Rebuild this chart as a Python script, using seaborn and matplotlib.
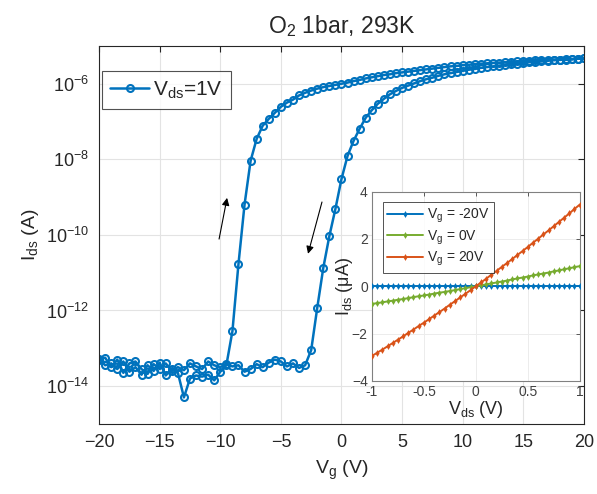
import numpy as np
import pandas as pd
import matplotlib
matplotlib.use("Agg")
import matplotlib.pyplot as plt
import seaborn as sns
from matplotlib.ticker import LogFormatterMathtext, NullLocator

# transfer curve, Vds = 1 V, gate swept -20 -> 20 -> -20 V in 0.5 V steps
vg = np.arange(-20, 20.5, 0.5)

# log10(Ids / A), forward sweep (-20 -> 20)
log_ids_up = [
    -13.28, -13.45, -13.40, -13.55, -13.35, -13.62, -13.50, -13.70, -13.45, -13.60,
    -13.38, -13.72, -13.55, -13.65, -14.30, -13.80, -13.72, -13.75, -13.70, -13.85,
    -13.62, -13.45, -12.55, -10.77, -9.20, -8.04, -7.46, -7.11, -6.93, -6.77,
    -6.61, -6.50, -6.42, -6.31, -6.24, -6.18, -6.13, -6.09, -6.06, -6.03,
    -6.00, -5.97, -5.93, -5.90, -5.86, -5.83, -5.80, -5.77, -5.75, -5.72,
    -5.70, -5.68, -5.66, -5.64, -5.62, -5.60, -5.58, -5.56, -5.54, -5.53,
    -5.51, -5.50, -5.48, -5.47, -5.46, -5.45, -5.44, -5.43, -5.42, -5.41,
    -5.40, -5.39, -5.38, -5.37, -5.37, -5.36, -5.36, -5.35, -5.35, -5.34,
    -5.33,
]

# log10(Ids / A), backward sweep, listed by ascending Vg
log_ids_down = [
    -13.30, -13.25, -13.50, -13.30, -13.65, -13.40, -13.35, -13.55, -13.68, -13.42,
    -13.55, -13.40, -13.60, -13.50, -13.58, -13.40, -13.48, -13.55, -13.35, -13.45,
    -13.50, -13.42, -13.48, -13.45, -13.62, -13.55, -13.42, -13.50, -13.38, -13.30,
    -13.35, -13.48, -13.40, -13.52, -13.45, -13.05, -11.93, -10.87, -10.03, -9.31,
    -8.52, -7.91, -7.51, -7.19, -6.90, -6.70, -6.53, -6.40, -6.28, -6.19,
    -6.11, -6.05, -5.99, -5.93, -5.88, -5.84, -5.79, -5.75, -5.72, -5.69,
    -5.66, -5.63, -5.61, -5.58, -5.56, -5.54, -5.52, -5.50, -5.48, -5.47,
    -5.45, -5.43, -5.42, -5.41, -5.39, -5.38, -5.37, -5.36, -5.35, -5.34,
    -5.33,
]

# output curves (inset), Ids in uA
vds = np.round(np.arange(-1, 1.0001, 0.05), 2)
ids_m20 = [
    0.00, 0.00, 0.00, 0.00, 0.00, 0.00, 0.00, 0.00, 0.00, 0.00,
    0.00, 0.00, 0.00, 0.00, 0.00, 0.00, 0.00, 0.00, 0.00, 0.00,
    0.00, 0.00, 0.00, 0.00, 0.00, 0.00, 0.00, 0.00, 0.00, 0.00,
    0.00, 0.00, 0.00, 0.00, 0.00, 0.00, 0.00, 0.00, 0.00, 0.00,
    0.00,
]
ids_0 = [
    -0.75, -0.71, -0.68, -0.64, -0.61, -0.57, -0.54, -0.50, -0.46, -0.42,
    -0.39, -0.35, -0.31, -0.27, -0.24, -0.20, -0.16, -0.12, -0.08, -0.04,
    0.00, 0.04, 0.08, 0.12, 0.16, 0.20, 0.24, 0.29, 0.33, 0.37,
    0.41, 0.46, 0.50, 0.54, 0.58, 0.63, 0.67, 0.72, 0.76, 0.81,
    0.85,
]
ids_p20 = [
    -2.95, -2.81, -2.68, -2.54, -2.40, -2.26, -2.12, -1.97, -1.83, -1.68,
    -1.54, -1.39, -1.24, -1.09, -0.94, -0.78, -0.63, -0.47, -0.32, -0.16,
    0.00, 0.16, 0.32, 0.49, 0.65, 0.82, 0.98, 1.15, 1.32, 1.49,
    1.66, 1.84, 2.01, 2.19, 2.36, 2.54, 2.72, 2.90, 3.08, 3.27,
    3.45,
]
inset_labels = ["$V_g$ = -20V", "$V_g$ = 0V", "$V_g$ = 20V"]

# sweep-direction arrows: (tail, head) in data coords
arrow_up = ((-10.1, 10**-10.11), (-9.44, 10**-9.02))
arrow_down = ((-1.61, 10**-9.13), (-2.76, 10**-10.5))

sns.set_theme(style="white")
plt.rcParams["font.family"] = ["Liberation Sans", "DejaVu Sans"]
plt.rcParams["mathtext.fontset"] = "custom"
plt.rcParams["mathtext.rm"] = "Liberation Sans"
plt.rcParams["mathtext.it"] = "Liberation Sans"
plt.rcParams["mathtext.default"] = "regular"
plt.rcParams["axes.edgecolor"] = "#262626"
plt.rcParams["xtick.color"] = "#262626"
plt.rcParams["ytick.color"] = "#262626"

BLUE = "#0072BD"
ORANGE = "#D95319"
GREEN = "#77AC30"

fig = plt.figure(figsize=(5.97, 4.94), dpi=100)
ax = fig.add_axes([0.166, 0.142, 0.812, 0.765])

df = pd.DataFrame({
    "Vg": np.concatenate([vg, vg[::-1]]),
    "Ids": 10 ** np.concatenate([log_ids_up, log_ids_down[::-1]]),
})
sns.lineplot(data=df, x="Vg", y="Ids", sort=False, estimator=None, ax=ax,
             color=BLUE, lw=1.8, marker="o", markersize=5, mfc="none",
             mec=BLUE, mew=1.5, label="$V_{ds}$=1V")

ax.set_yscale("log")
ax.set_xlim(-20, 20)
ax.set_ylim(1e-15, 1e-5)
ax.set_xticks(np.arange(-20, 21, 5))
ax.set_yticks([1e-14, 1e-12, 1e-10, 1e-8, 1e-6])
ax.yaxis.set_major_formatter(LogFormatterMathtext())
ax.yaxis.set_minor_locator(NullLocator())
ax.tick_params(direction="in", top=True, right=True, length=4, width=0.8,
               labelsize=13, pad=7)
ax.grid(True, color="#e3e3e3", lw=0.8)
for sp in ax.spines.values():
    sp.set_linewidth(0.8)
ax.set_xlabel("$V_g$ (V)", fontsize=14, color="#262626", labelpad=6)
ax.set_ylabel("$I_{ds}$ (A)", fontsize=14, color="#262626", labelpad=4)
ax.set_title("$O_2$ 1bar, 293K", fontsize=16.5, pad=9)

leg = ax.legend(loc="upper left", bbox_to_anchor=(0.005, 0.933), fontsize=15,
                frameon=True, fancybox=False, edgecolor="#262626",
                handlelength=1.9, borderpad=0.4, handletextpad=0.15,
                borderaxespad=0)
leg.get_frame().set_linewidth(0.8)

for (tail, head) in (arrow_up, arrow_down):
    ax.annotate("", xy=head, xytext=tail,
                arrowprops=dict(arrowstyle="-|>", color="black", lw=0.8,
                                mutation_scale=11, shrinkA=0, shrinkB=0))

# inset: output characteristics
ins = fig.add_axes([0.623, 0.229, 0.348, 0.383])
df_out = pd.DataFrame({
    "Vds": np.concatenate([vds, vds, vds]),
    "Ids": np.concatenate([ids_m20, ids_0, ids_p20]),
    "curve": np.repeat(inset_labels, len(vds)),
})
sns.lineplot(data=df_out, x="Vds", y="Ids", hue="curve", sort=False,
             estimator=None, palette=[BLUE, GREEN, ORANGE], ax=ins,
             lw=1.4, marker="d", markersize=3.5, mew=0, zorder=3)
ins.set_xlim(-1, 1)
ins.set_ylim(-4, 4)
ins.set_xticks([-1, -0.5, 0, 0.5, 1])
ins.set_xticklabels(["-1", "-0.5", "0", "0.5", "1"])
ins.set_yticks([-4, -2, 0, 2, 4])
ins.tick_params(direction="in", top=True, right=True, length=3, width=0.6,
                labelsize=10, pad=3, colors="#404040")
ins.grid(True, color="#ececec", lw=0.7)
for sp in ins.spines.values():
    sp.set_linewidth(0.8)
    sp.set_color("#808080")
ins.set_xlabel("$V_{ds}$ (V)", fontsize=13, color="#262626", labelpad=0)
ins.set_ylabel("$I_{ds}$ ($\\mu$A)", fontsize=13, color="#262626", labelpad=-2)
ileg = ins.legend(loc="upper left", fontsize=10, frameon=True, fancybox=False,
                  edgecolor="#262626", handlelength=2.6, borderpad=0.3,
                  labelspacing=0.25, handletextpad=0.3,
                  bbox_to_anchor=(0.02, 0.98))
ileg.get_frame().set_linewidth(0.7)

fig.savefig("out.png", dpi=100)
